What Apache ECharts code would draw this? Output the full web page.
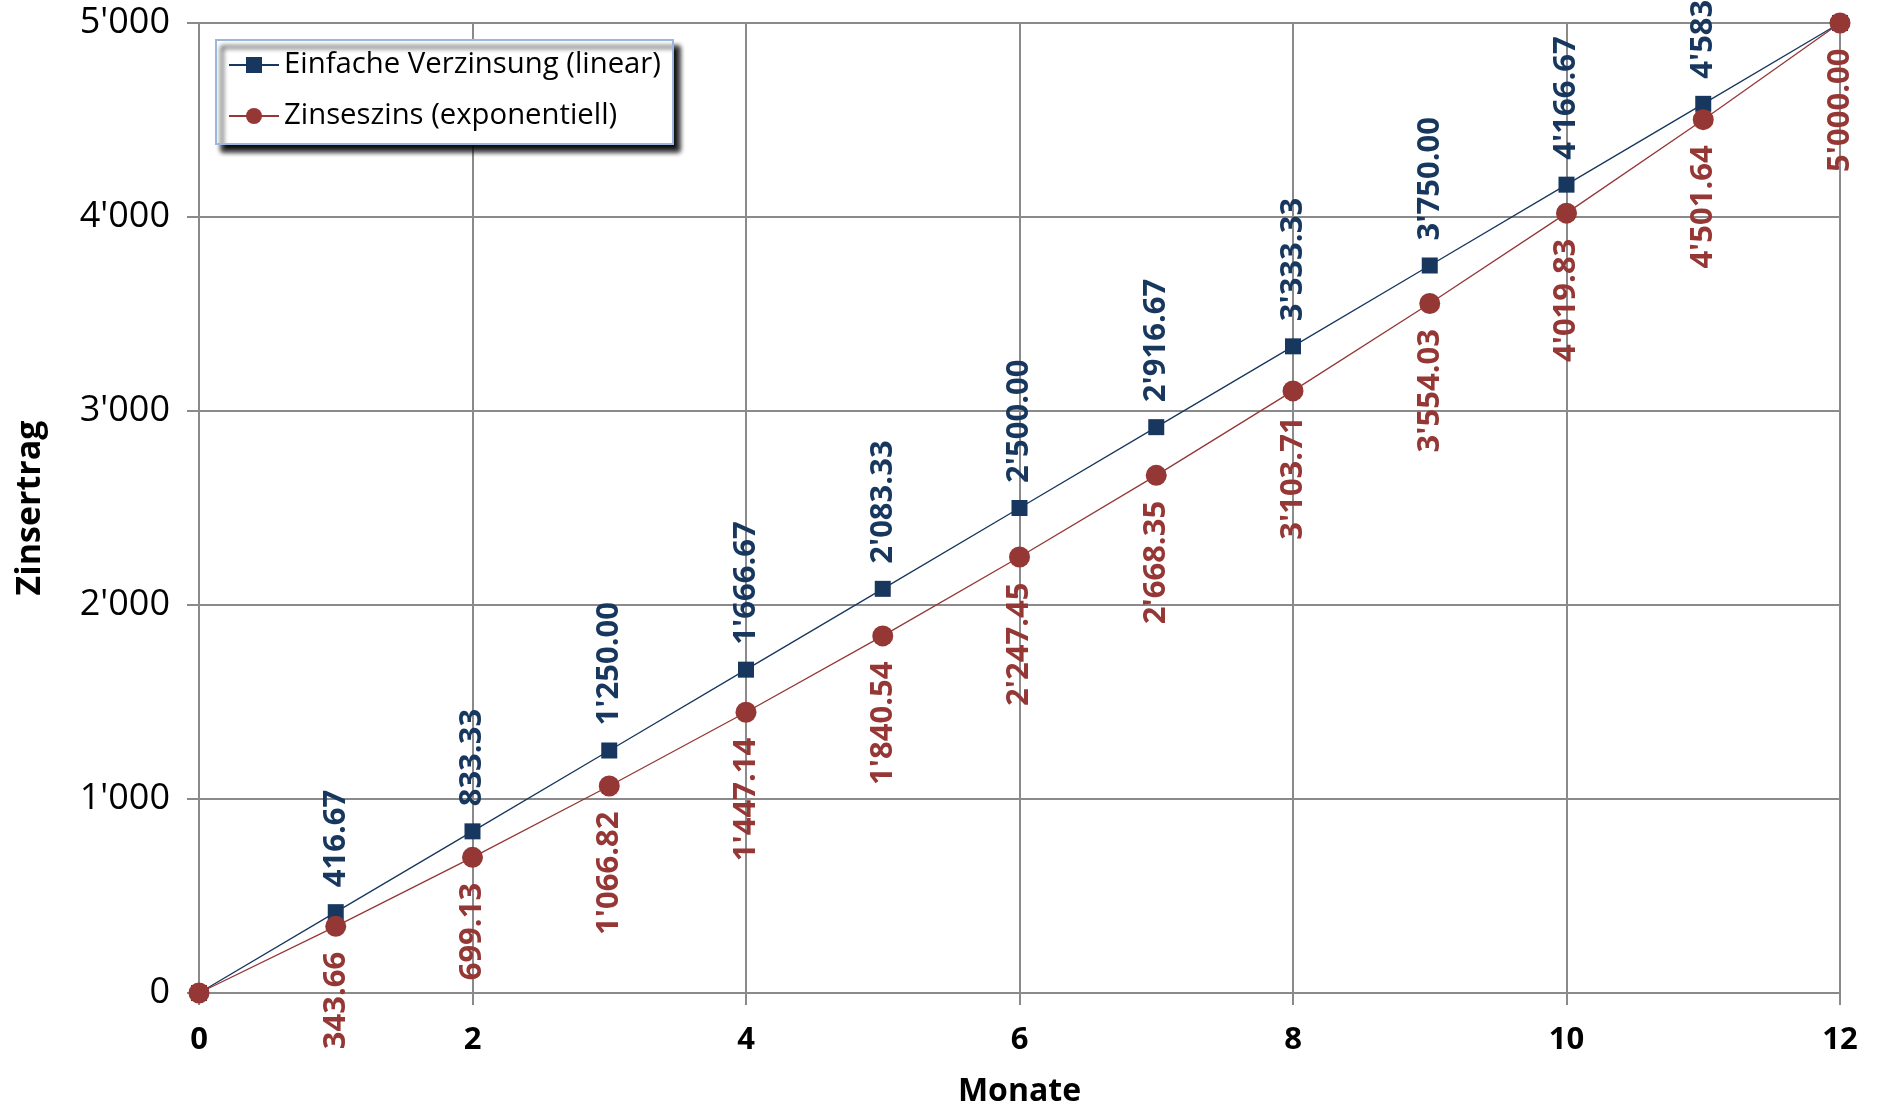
<!DOCTYPE html>
<html>
<head>
<meta charset="utf-8">
<script src="https://cdn.jsdelivr.net/npm/echarts@6/dist/echarts.min.js"></script>
<style>
  html, body { margin: 0; padding: 0; background: #ffffff; }
  #chart { width: 1878px; height: 1107px; }
</style>
</head>
<body>
<div id="chart"></div>
<script>
// Months 0..12 and accumulated interest for both methods
const months = [0, 1, 2, 3, 4, 5, 6, 7, 8, 9, 10, 11, 12];
const linearValues = [0, 416.67, 833.33, 1250.00, 1666.67, 2083.33, 2500.00, 2916.67, 3333.33, 3750.00, 4166.67, 4583.33, 5000.00];
const compoundValues = [0, 343.66, 699.13, 1066.82, 1447.14, 1840.54, 2247.45, 2668.35, 3103.71, 3554.03, 4019.83, 4501.64, 5000.00];
const seriesNames = ['Einfache Verzinsung (linear)', 'Zinseszins (exponentiell)'];

const BLUE = '#17375E';
const RED = '#953735';
const GRID = '#8a8a8a';
const FONT = '"Open Sans", "Noto Sans", sans-serif';

// Swiss-style number format: 1'234.56
function swiss(v, decimals) {
  const s = v.toFixed(decimals);
  const parts = s.split('.');
  parts[0] = parts[0].replace(/\B(?=(\d{3})+(?!\d))/g, "'");
  return parts.join('.');
}

function pairs(values) {
  return months.map((m, i) => [m, values[i]]);
}

const chart = echarts.init(document.getElementById('chart'));

chart.setOption({
  backgroundColor: '#ffffff',
  animation: false,
  textStyle: { fontFamily: FONT },
  grid: { left: 199, right: 38, top: 23, bottom: 114, containLabel: false, outerBoundsMode: 'none' },
  legend: {
    left: 216,
    top: 40,
    orient: 'vertical',
    data: seriesNames,
    itemWidth: 50,
    itemHeight: 20,
    itemGap: 17,
    padding: [8, 12, 11, 12],
    backgroundColor: '#ffffff',
    borderColor: '#9bb7de',
    borderWidth: 2,
    borderRadius: 0,
    shadowColor: 'rgba(0,0,0,0.95)',
    shadowBlur: 5,
    shadowOffsetX: 6,
    shadowOffsetY: 7,
    textStyle: { fontFamily: FONT, fontSize: 29.3, color: '#000', lineHeight: 34, padding: [0, 0, 0, 0] }
  },
  xAxis: {
    type: 'value',
    min: 0,
    max: 12,
    interval: 2,
    name: 'Monate',
    nameLocation: 'middle',
    nameGap: 83,
    nameTextStyle: { fontFamily: FONT, fontSize: 32, fontWeight: 'bold', color: '#000', verticalAlign: 'top' },
    axisLine: { show: true, lineStyle: { color: GRID, width: 2 } },
    axisTick: { show: true, length: 12, lineStyle: { color: GRID, width: 2 } },
    axisLabel: { fontFamily: FONT, fontSize: 31, fontWeight: 'bold', color: '#000', margin: 32 },
    splitLine: { show: true, lineStyle: { color: GRID, width: 2 } }
  },
  yAxis: {
    type: 'value',
    min: 0,
    max: 5000,
    interval: 1000,
    name: 'Zinsertrag',
    nameLocation: 'middle',
    nameRotate: 90,
    nameGap: 152,
    nameTextStyle: { fontFamily: FONT, fontSize: 34, fontWeight: 'bold', color: '#000' },
    axisLine: { show: true, lineStyle: { color: GRID, width: 2 } },
    axisTick: { show: true, length: 12, lineStyle: { color: GRID, width: 2 } },
    axisLabel: {
      fontFamily: FONT, fontSize: 36, color: '#000', margin: 29,
      formatter: v => swiss(v, 0)
    },
    splitLine: { show: true, lineStyle: { color: GRID, width: 2 } }
  },
  series: [
    {
      name: seriesNames[0],
      type: 'line',
      data: pairs(linearValues),
      symbol: 'rect',
      symbolSize: 16,
      color: BLUE,
      lineStyle: { color: BLUE, width: 1.3 },
      itemStyle: { color: BLUE },
      clip: false,
      label: {
        show: true,
        position: 'top',
        distance: 17,
        rotate: 90,
        align: 'left',
        verticalAlign: 'middle',
        fontFamily: FONT,
        fontSize: 31,
        fontWeight: 'bold',
        color: BLUE,
        formatter: p => (p.dataIndex === 0 ? '' : swiss(p.value[1], 2))
      },
      z: 2
    },
    {
      name: seriesNames[1],
      type: 'line',
      data: pairs(compoundValues),
      symbol: 'circle',
      symbolSize: 21,
      color: RED,
      lineStyle: { color: RED, width: 1.3 },
      itemStyle: { color: RED },
      clip: false,
      label: {
        show: true,
        position: 'bottom',
        distance: 15,
        rotate: 90,
        align: 'right',
        verticalAlign: 'middle',
        fontFamily: FONT,
        fontSize: 31,
        fontWeight: 'bold',
        color: RED,
        formatter: p => (p.dataIndex === 0 ? '' : swiss(p.value[1], 2))
      },
      z: 3
    }
  ]
});
</script>
</body>
</html>
